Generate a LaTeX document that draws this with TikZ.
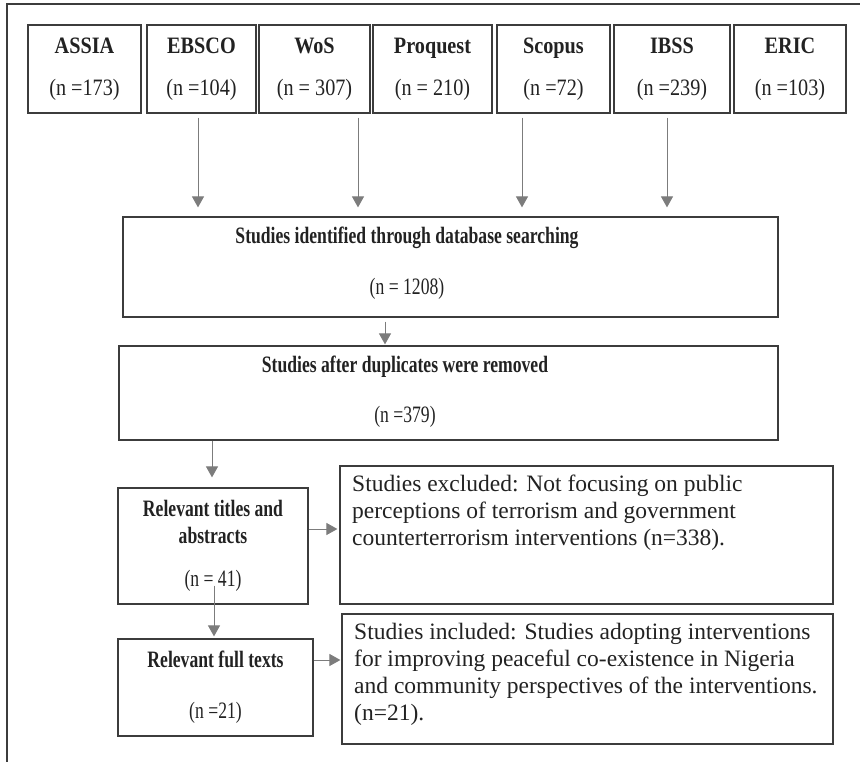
\documentclass[tikz,border=0pt]{standalone}
\usepackage{fontspec}
\setmainfont{Liberation Serif}
\newfontfamily\condfont[FakeStretch=0.75]{Liberation Serif}
\newfontfamily\topfont[FakeStretch=0.86]{Liberation Serif}
\usepackage{tikz}
\usetikzlibrary{arrows.meta,positioning}
\definecolor{frame}{HTML}{3C3C3C}
\definecolor{flowgray}{HTML}{7C7C7C}
\definecolor{ink}{HTML}{222222}

\begin{document}
\begin{tikzpicture}[x=1pt,y=-1pt,
  every node/.style={text=ink,font=\fontsize{23.5}{27}\selectfont},
  dbbox/.style={draw=frame,line width=1.2pt,minimum height=88pt,inner sep=0pt,
                align=center,font=\topfont\fontsize{23.5}{27}\selectfont},
  stage/.style={draw=frame,line width=1.2pt,inner sep=0pt,align=center,
                font=\condfont\fontsize{23.5}{27}\selectfont},
  stagetext/.style={inner sep=0pt,align=center,
                font=\condfont\fontsize{23.5}{27}\selectfont},
  sidetext/.style={inner sep=0pt,align=left,anchor=north west},
  flow/.style={draw=flowgray,line width=1pt,
               -{Triangle[length=11pt,width=12pt]},color=flowgray}]
  \useasboundingbox (0,0) rectangle (860,762);
  \draw[frame,line width=1.2pt] (7,762) -- (7,4) -- (860,4);

  % databases
  \node[dbbox,minimum width=113pt] (assia) at (84.5,69) {\textbf{ASSIA}\\[15pt](n =173)};
  \node[dbbox,minimum width=109pt] (ebsco) at (201.5,69) {\textbf{EBSCO}\\[15pt](n =104)};
  \node[dbbox,minimum width=111pt] (wos) at (314.5,69) {\textbf{WoS}\\[15pt](n = 307)};
  \node[dbbox,minimum width=119pt] (proquest) at (432.5,69) {\textbf{Proquest}\\[15pt](n = 210)};
  \node[dbbox,minimum width=113pt] (scopus) at (553.5,69) {\textbf{Scopus}\\[15pt](n =72)};
  \node[dbbox,minimum width=116pt] (ibss) at (672,69) {\textbf{IBSS}\\[15pt](n =239)};
  \node[dbbox,minimum width=112pt] (eric) at (790,69) {\textbf{ERIC}\\[15pt](n =103)};

  % screening stages
  \node[stage,minimum width=655pt,minimum height=100pt] (ident) at (450.5,267) {};
  \node[stagetext] (identtxt) at (407,263)
    {\textbf{Studies identified through database searching}\\[24pt](n = 1208)};
  \node[stage,minimum width=659pt,minimum height=94pt] (dup) at (448.5,393) {};
  \node[stagetext] (duptxt) at (405,392)
    {\textbf{Studies after duplicates were removed}\\[23pt](n =379)};
  \node[stage,minimum width=190pt,minimum height=116pt] (titles) at (213,546)
    {\textbf{Relevant titles and}\\\textbf{abstracts}\\[16pt](n = 41)};
  \node[stage,minimum width=195pt,minimum height=97pt] (full) at (215.5,687.5)
    {\textbf{Relevant full texts}\\[24pt](n =21)};

  % exclusion and inclusion
  \node[stage,minimum width=493pt,minimum height=138pt] (excl) at (586.5,535) {};
  \node[sidetext] (excltxt) at (352,475)
    {Studies excluded: Not focusing on public\\
     perceptions of terrorism and government\\
     counterterrorism interventions (n=338).};
  \node[stage,minimum width=491pt,minimum height=130pt] (incl) at (587.5,679) {};
  \node[sidetext] (incltxt) at (354,623)
    {Studies included: Studies adopting interventions\\
     for improving peaceful co-existence in Nigeria\\
     and community perspectives of the interventions.\\
     (n=21).};

  \draw[flow,shorten <=4pt,shorten >=9pt] ([xshift=-3.5pt]ebsco.south) -- ([xshift=-3.5pt]ebsco.south |- ident.north);
  \draw[flow,shorten <=4pt,shorten >=9pt] ([xshift=43.5pt]wos.south) -- ([xshift=43.5pt]wos.south |- ident.north);
  \draw[flow,shorten <=4pt,shorten >=9pt] ([xshift=-31.5pt]scopus.south) -- ([xshift=-31.5pt]scopus.south |- ident.north);
  \draw[flow,shorten <=4pt,shorten >=9pt] ([xshift=-5pt]ibss.south) -- ([xshift=-5pt]ibss.south |- ident.north);
  \draw[flow,shorten <=4pt,shorten >=1pt] ([xshift=-65.5pt]ident.south) -- ([xshift=-65.5pt]ident.south |- dup.north);
  \draw[flow,shorten >=10pt] ([xshift=-1pt]titles.north |- dup.south) -- ([xshift=-1pt]titles.north);
  \draw[flow,shorten >=2pt] ([xshift=1pt,yshift=19pt]titles.south) -- ([xshift=1pt]titles.south |- full.north);
  \draw[flow,shorten >=2pt] ([yshift=17pt]titles.east) -- ([yshift=17pt]titles.east -| excl.west);
  \draw[flow,shorten >=1pt] ([yshift=27.5pt]full.east) -- ([yshift=27.5pt]full.east -| incl.west);
\end{tikzpicture}
\end{document}
